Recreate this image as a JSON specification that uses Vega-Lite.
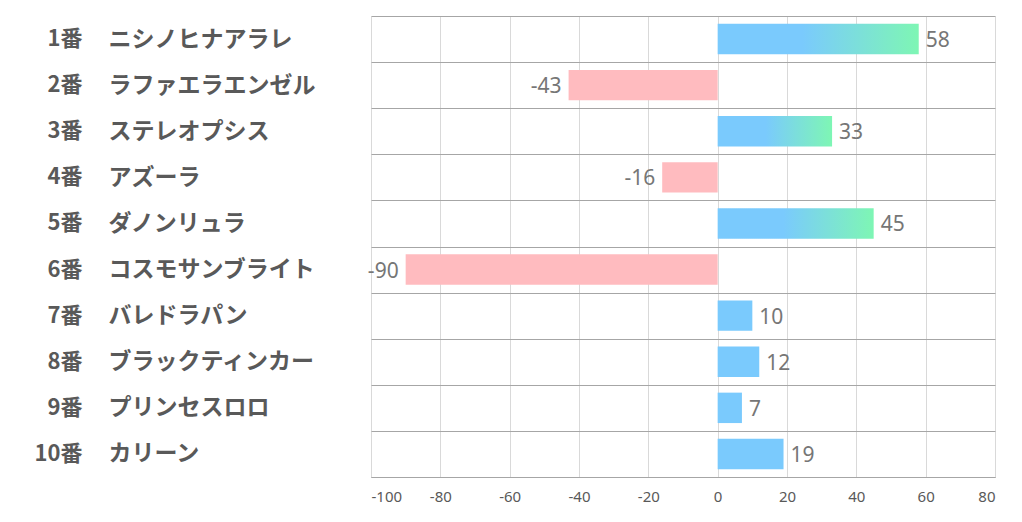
{
  "$schema": "https://vega.github.io/schema/vega-lite/v6.json",
  "autosize": {"type": "none"},
  "width": 624,
  "height": 461,
  "padding": {"left": 371, "top": 16, "right": 27, "bottom": 45},
  "background": "white",
  "config": {"view": {"stroke": null}},
  "data": {"values": [
    {"key": "1番|ニシノヒナアラレ", "v": 58},
    {"key": "2番|ラファエラエンゼル", "v": -43},
    {"key": "3番|ステレオプシス", "v": 33},
    {"key": "4番|アズーラ", "v": -16},
    {"key": "5番|ダノンリュラ", "v": 45},
    {"key": "6番|コスモサンブライト", "v": -90},
    {"key": "7番|バレドラパン", "v": 10},
    {"key": "8番|ブラックティンカー", "v": 12},
    {"key": "9番|プリンセスロロ", "v": 7},
    {"key": "10番|カリーン", "v": 19}
  ]},
  "resolve": {"axis": {"y": "independent", "x": "independent"}},
  "layer": [
    {
      "transform": [{"filter": "datum.v < 0"}],
      "mark": {"type": "bar", "color": "#ffbbbf", "height": {"band": 0.66}},
      "encoding": {
        "y": {"field": "key", "type": "nominal",
          "sort": ["1番|ニシノヒナアラレ", "2番|ラファエラエンゼル", "3番|ステレオプシス", "4番|アズーラ", "5番|ダノンリュラ", "6番|コスモサンブライト", "7番|バレドラパン", "8番|ブラックティンカー", "9番|プリンセスロロ", "10番|カリーン"],
          "scale": {"paddingInner": 0, "paddingOuter": 0},
          "axis": {"orient": "left", "title": null, "labelExpr": "split(datum.label, '|')[1]",
            "labelAlign": "left", "labelPadding": 263, "labelLimit": 400,
            "labelFont": "Noto Sans CJK JP", "labelFontWeight": "bold", "labelFontSize": 23, "labelColor": "#595959",
            "domain": false, "ticks": false, "grid": true, "tickBand": "extent", "gridColor": "#a6a6a6", "gridWidth": 1}},
        "x": {"field": "v", "type": "quantitative",
          "scale": {"domain": [-100, 80], "nice": false, "zero": false},
          "axis": {"title": null, "values": [-100, -80, -60, -40, -20, 0, 20, 40, 60, 80],
            "labelExpr": "'' + datum.value",
            "grid": true, "gridColor": "#d9d9d9", "ticks": false, "domain": true, "domainColor": "#a6a6a6",
            "labelFont": "Noto Sans", "labelFontSize": 15, "labelColor": "#595959", "labelPadding": 12}}
      }
    },
    {
      "transform": [{"filter": "datum.v >= 0 && datum.v < 20"}],
      "mark": {"type": "bar", "color": "#7acafd", "height": {"band": 0.66}},
      "encoding": {
        "y": {"field": "key", "type": "nominal",
          "sort": ["1番|ニシノヒナアラレ", "2番|ラファエラエンゼル", "3番|ステレオプシス", "4番|アズーラ", "5番|ダノンリュラ", "6番|コスモサンブライト", "7番|バレドラパン", "8番|ブラックティンカー", "9番|プリンセスロロ", "10番|カリーン"],
          "axis": null},
        "x": {"field": "v", "type": "quantitative", "axis": null}
      }
    },
    {
      "transform": [{"filter": "datum.v >= 20"}],
      "mark": {"type": "bar", "height": {"band": 0.66}, "color": {"gradient": "linear", "x1": 0, "y1": 0, "x2": 1, "y2": 0,
        "stops": [{"offset": 0, "color": "#7acafd"}, {"offset": 0.42, "color": "#7acafd"}, {"offset": 1, "color": "#7ef6b4"}]}},
      "encoding": {
        "y": {"field": "key", "type": "nominal",
          "sort": ["1番|ニシノヒナアラレ", "2番|ラファエラエンゼル", "3番|ステレオプシス", "4番|アズーラ", "5番|ダノンリュラ", "6番|コスモサンブライト", "7番|バレドラパン", "8番|ブラックティンカー", "9番|プリンセスロロ", "10番|カリーン"],
          "axis": null},
        "x": {"field": "v", "type": "quantitative", "axis": null}
      }
    },
    {
      "transform": [{"filter": "datum.v >= 0"}],
      "mark": {"type": "text", "align": "left", "baseline": "middle", "dx": 7, "dy": 2, "font": "Noto Sans", "fontSize": 21, "color": "#767676"},
      "encoding": {
        "y": {"field": "key", "type": "nominal",
          "sort": ["1番|ニシノヒナアラレ", "2番|ラファエラエンゼル", "3番|ステレオプシス", "4番|アズーラ", "5番|ダノンリュラ", "6番|コスモサンブライト", "7番|バレドラパン", "8番|ブラックティンカー", "9番|プリンセスロロ", "10番|カリーン"],
          "axis": {"orient": "left", "title": null, "labelExpr": "split(datum.label, '|')[0]",
            "labelAlign": "right", "labelPadding": 289, "labelLimit": 400,
            "labelFont": "Noto Sans CJK JP", "labelFontWeight": "bold", "labelFontSize": 22, "labelColor": "#595959",
            "domain": false, "ticks": false, "grid": false}},
        "x": {"field": "v", "type": "quantitative", "axis": null},
        "text": {"field": "v", "type": "nominal"}
      }
    },
    {
      "transform": [{"filter": "datum.v < 0"}],
      "mark": {"type": "text", "align": "right", "baseline": "middle", "dx": -7, "dy": 2, "font": "Noto Sans", "fontSize": 21, "color": "#767676"},
      "encoding": {
        "y": {"field": "key", "type": "nominal",
          "sort": ["1番|ニシノヒナアラレ", "2番|ラファエラエンゼル", "3番|ステレオプシス", "4番|アズーラ", "5番|ダノンリュラ", "6番|コスモサンブライト", "7番|バレドラパン", "8番|ブラックティンカー", "9番|プリンセスロロ", "10番|カリーン"],
          "axis": null},
        "x": {"field": "v", "type": "quantitative", "axis": null},
        "text": {"field": "v", "type": "nominal"}
      }
    }
  ]
}
